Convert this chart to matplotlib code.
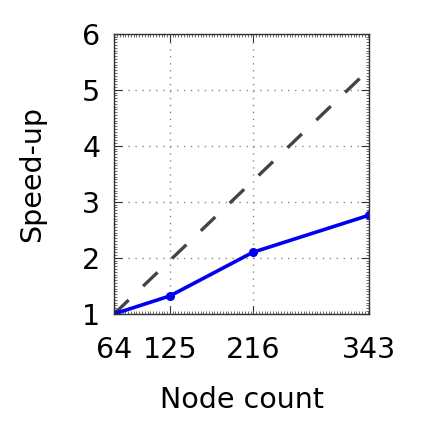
import numpy as np
import matplotlib
matplotlib.use('Agg')
import matplotlib.pyplot as plt
from matplotlib.ticker import AutoMinorLocator

nodes = [64, 125, 216, 343]
speedup = [1.0, 1.32, 2.10, 2.76]
ideal = [n / nodes[0] for n in nodes]
yticks = [1, 2, 3, 4, 5, 6]

fig = plt.figure(figsize=(4.23, 4.23), dpi=100)
ax = fig.add_axes([0.27, 0.258, 0.602, 0.662])

ax.plot([nodes[0], nodes[-1]], [ideal[0], ideal[-1]], color='#444444',
        lw=2.4, dashes=(6, 6))
ax.plot(nodes, speedup, color='#0000ee', lw=2.6, marker='o', ms=5.5)

ax.set_xlim(64, 343)
ax.set_ylim(1, 6)
ax.set_xticks(nodes)
ax.set_yticks(yticks)
ax.grid(True, color='#888888', ls=(0, (1, 4)), lw=1)
ax.tick_params(direction='in', top=True, right=True, labelsize=20.5, length=6,
               color='#333333')
ax.tick_params(axis='x', pad=16)
ax.tick_params(axis='y', pad=10)
ax.tick_params(which='minor', direction='in', top=True, right=True, length=2,
               color='#555555')
ax.xaxis.set_minor_locator(AutoMinorLocator(20))
ax.yaxis.set_minor_locator(AutoMinorLocator(20))
for s in ax.spines.values():
    s.set_color('#333333')
    s.set_linewidth(1)

ax.set_xlabel('Node count', fontsize=20.5, labelpad=16)
ax.set_ylabel('Speed-up', fontsize=20.5, labelpad=26)

fig.savefig('out.png', dpi=100)
